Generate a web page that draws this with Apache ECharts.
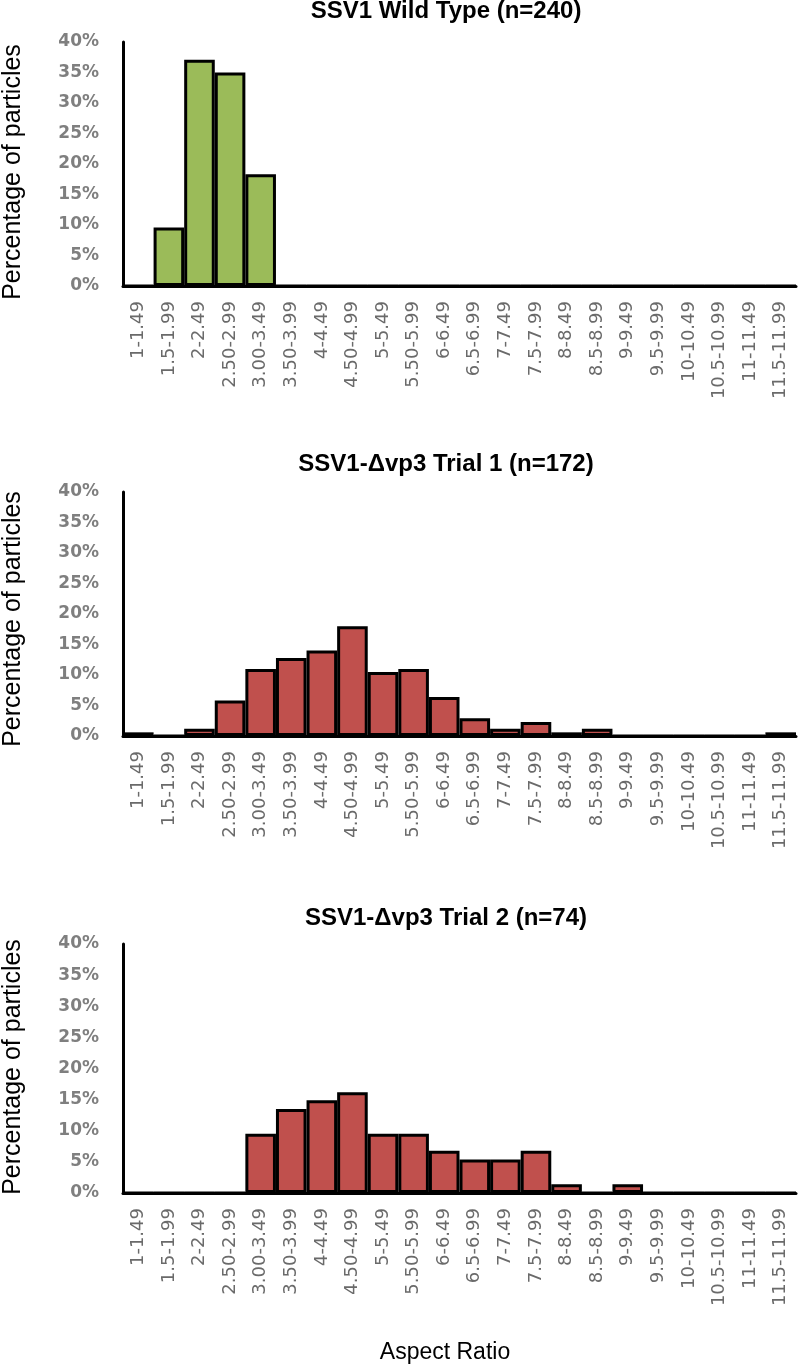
<!DOCTYPE html>
<html>
<head>
<meta charset="utf-8">
<script src="https://cdn.jsdelivr.net/npm/echarts@6/dist/echarts.min.js"></script>
<style>
  html, body { margin: 0; padding: 0; background: #fff; }
  #chart { width: 800px; height: 1368px; }
</style>
</head>
<body>
<div id="chart"></div>
<script>
const categories = ["1-1.49","1.5-1.99","2-2.49","2.50-2.99","3.00-3.49","3.50-3.99","4-4.49","4.50-4.99","5-5.49","5.50-5.99","6-6.49","6.5-6.99","7-7.49","7.5-7.99","8-8.49","8.5-8.99","9-9.49","9.5-9.99","10-10.49","10.5-10.99","11-11.49","11.5-11.99"];
const wildType = [0, 9.6, 37.1, 35.0, 18.3, 0, 0, 0, 0, 0, 0, 0, 0, 0, 0, 0, 0, 0, 0, 0, 0, 0];
const trial1 = [0.6, 0, 1.2, 5.8, 11.0, 12.8, 14.0, 18.0, 10.5, 11.0, 6.4, 2.9, 1.2, 2.3, 0.6, 1.2, 0, 0, 0, 0, 0, 0.6];
const trial2 = [0, 0, 0, 0, 9.5, 13.5, 14.9, 16.2, 9.5, 9.5, 6.8, 5.4, 5.4, 6.8, 1.4, 0, 1.4, 0, 0, 0, 0, 0];
const titles = ["SSV1 Wild Type (n=240)", "SSV1-\u0394vp3 Trial 1 (n=172)", "SSV1-\u0394vp3 Trial 2 (n=74)"];
const yTitle = "Percentage of particles";
const xTitle = "Aspect Ratio";

const seriesData = [wildType, trial1, trial2];
const colors = ['#9BBB59', '#C0504D', '#C0504D'];
const gridTops = [42, 492, 944];
const gridHeights = [244, 244, 249];
const titleYs = [11, 464, 918];
const yTitleCenters = [172, 619, 1067];

const chart = echarts.init(document.getElementById('chart'), null, { renderer: 'canvas' });

const grids = [], xAxes = [], yAxes = [], series = [], graphics = [];
for (let i = 0; i < 3; i++) {
  grids.push({ left: 123, right: 4, top: gridTops[i], height: gridHeights[i], containLabel: false });
  xAxes.push({
    gridIndex: i, type: 'category', data: categories,
    axisLine: { lineStyle: { color: '#000', width: 3 } },
    axisTick: { show: false },
    axisLabel: { rotate: 90, interval: 0, color: '#6a6a6a', fontSize: 18, fontFamily: 'DejaVu Sans', margin: 15 }
  });
  yAxes.push({
    gridIndex: i, type: 'value', min: 0, max: 40, interval: 5,
    axisLine: { show: true, lineStyle: { color: '#000', width: 3 } },
    axisTick: { show: false },
    splitLine: { show: false },
    axisLabel: { formatter: '{value}%', color: '#7f7f7f', fontSize: 17, fontWeight: 'bold', fontFamily: 'DejaVu Sans', margin: 24, padding: [8, 0, 0, 0] }
  });
  series.push({
    type: 'bar', xAxisIndex: i, yAxisIndex: i, data: seriesData[i],
    barCategoryGap: '0%',
    itemStyle: { color: colors[i], borderColor: '#000', borderWidth: 3 }
  });
  graphics.push({
    type: 'text', x: 446, y: titleYs[i],
    style: { text: titles[i], textAlign: 'center', textVerticalAlign: 'middle',
      font: 'bold 24px "Liberation Sans", Arial, sans-serif', fill: '#000' }
  });
  graphics.push({
    type: 'text', x: 13, y: yTitleCenters[i], rotation: Math.PI / 2,
    style: { text: yTitle, textAlign: 'center', textVerticalAlign: 'middle',
      font: '25px "Liberation Sans", Arial, sans-serif', fill: '#000' }
  });
}
graphics.push({
  type: 'text', x: 445, y: 1353,
  style: { text: xTitle, textAlign: 'center', textVerticalAlign: 'middle',
    font: '23px "Liberation Sans", Arial, sans-serif', fill: '#000' }
});

chart.setOption({
  animation: false,
  backgroundColor: '#fff',
  grid: grids,
  xAxis: xAxes,
  yAxis: yAxes,
  series: series,
  graphic: graphics
});
</script>
</body>
</html>
